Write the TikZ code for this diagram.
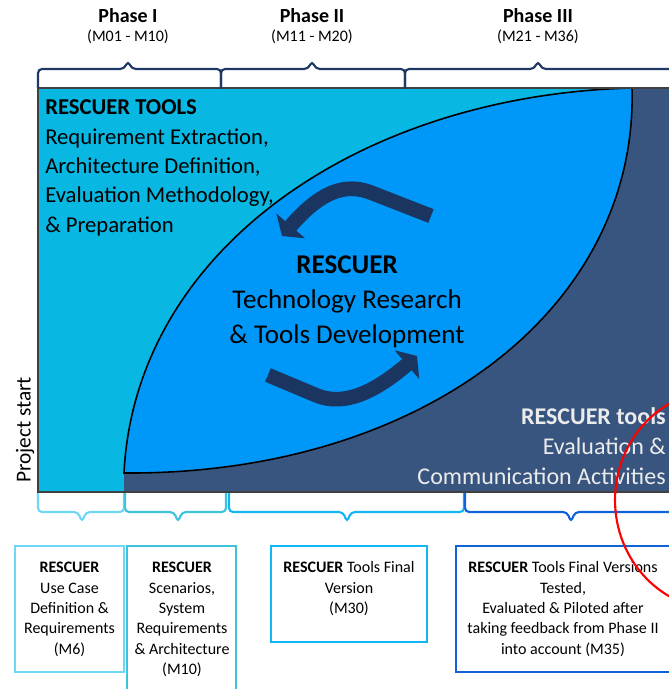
\documentclass[tikz,border=0pt]{standalone}
\usepackage{fontspec}
\setmainfont{Carlito}
\usetikzlibrary{arrows.meta}
\definecolor{toolcyan}{HTML}{08B7E2}
\definecolor{lensblue}{HTML}{0098F8}
\definecolor{evalnavy}{HTML}{385580}
\definecolor{cyclenavy}{HTML}{1A3560}
\definecolor{phasenavy}{HTML}{1F3864}
\definecolor{outA}{HTML}{6FD7F6}
\definecolor{outB}{HTML}{3EC4DA}
\definecolor{outC}{HTML}{12B6F4}
\definecolor{outD}{HTML}{0F62DA}
\begin{document}
\begin{tikzpicture}[x=0.75pt,y=-0.75pt,
  phaselabel/.style={anchor=base,inner sep=0pt,font=\fontsize{15}{18}\selectfont\bfseries},
  monthlabel/.style={anchor=base,inner sep=0pt,font=\fontsize{12}{14}\selectfont},
  topbrace/.style={draw=phasenavy,line width=1.6pt,rounded corners=3pt},
  outbrace/.style={line width=1.6pt,rounded corners=3pt},
  outbox/.style={line width=2.2pt},
  outtext/.style={align=center,anchor=base,inner sep=0pt,font=\fontsize{12}{15.3}\selectfont},
  cyclearrow/.style={draw=cyclenavy,line width=11pt,-{Triangle[length=10pt,width=28pt]}}]
\useasboundingbox (0,0) rectangle (668,689);
\fill[toolcyan] (38,88) rectangle (700,492);
\fill[evalnavy] (124,492) -- (124,473) .. controls (420,475) and (638,310) .. (632,88) -- (700,88) -- (700,492) -- cycle;
\filldraw[fill=lensblue,draw=black,line width=1.2pt] (124,473) .. controls (135,250) and (360,95) .. (632,88) .. controls (638,310) and (420,475) .. (124,473) -- cycle;
\draw[black!75,line width=1pt] (700,88) -- (38,88) -- (38,492) -- (700,492);
\draw[cyclearrow] (431,216) -- (372,193) .. controls (345,182) and (320,192) .. (282,236);
\draw[cyclearrow] (268,375) -- (318,396) .. controls (345,406) and (375,392) .. (417,356);
\node[phaselabel] (ph1) at (128,22.7) {Phase I};
\node[monthlabel] (m1) at (128,41.7) {(M01 - M10)};
\node[phaselabel] (ph2) at (312,22.7) {Phase II};
\node[monthlabel] (m2) at (312,41.7) {(M11 - M20)};
\node[phaselabel] (ph3) at (538,22.7) {Phase III};
\node[monthlabel] (m3) at (538,41.7) {(M21 - M36)};
\draw[topbrace] (38,88) -- (38,69) -- (124,69) -- (128,61) -- (132,69) -- (221,69) -- (221,88);
\draw[topbrace] (221,88) -- (221,69) -- (308,69) -- (312,61) -- (316,69) -- (405,69) -- (405,88);
\draw[topbrace] (405,88) -- (405,69) -- (534,69) -- (538,61) -- (542,69) -- (700,69);
\node[anchor=base west,align=left,inner sep=0pt,font=\fontsize{17}{22}\selectfont] (tools) at (45,232) {\textbf{RESCUER TOOLS}\\Requirement Extraction,\\Architecture Definition,\\Evaluation Methodology,\\\& Preparation};
\node[anchor=base,align=center,inner sep=0pt,font=\fontsize{20.3}{26}\selectfont] (research) at (347,343) {\textbf{RESCUER}\\Technology Research\\\& Tools Development};
\node[anchor=base east,align=right,inner sep=0pt,text=white!92!black,font=\fontsize{18}{22.5}\selectfont] (evaluation) at (666,484) {\textbf{RESCUER tools}\\Evaluation \&\\Communication Activities};
\node[rotate=90,inner sep=0pt,font=\fontsize{16}{19}\selectfont] (start) at (25,430) {Project start};
\draw[outbrace,draw=outA] (38,493) -- (38,512) -- (78,512) -- (82,522) -- (86,512) -- (124,512) -- (124,493);
\draw[outbrace,draw=outB] (125,493) -- (125,512) -- (174,512) -- (178,522) -- (182,512) -- (226,512) -- (226,493);
\draw[outbrace,draw=outC] (229,493) -- (229,512) -- (343,512) -- (347,522) -- (351,512) -- (464,512) -- (464,493);
\draw[outbrace,draw=outD] (465,493) -- (465,512) -- (567,512) -- (571,522) -- (575,512) -- (700,512);
\draw[outbox,draw=outA] (15,546) rectangle (124,672);
\draw[outbox,draw=outB] (127,546) rectangle (236,692);
\draw[outbox,draw=outC] (271,546) rectangle (427,642);
\draw[outbox,draw=outD] (456,546) rectangle (671,672);
\node[outtext] (d1) at (69.5,654.3) {\textbf{RESCUER}\\Use Case\\Definition \&\\Requirements\\(M6)};
\node[outtext] (d2) at (182,674.7) {\textbf{RESCUER}\\Scenarios,\\System\\Requirements\\\& Architecture\\(M10)};
\node[outtext] (d3) at (349,613.5) {\textbf{RESCUER} Tools Final\\Version\\(M30)};
\node[outtext] (d4) at (563,654.3) {\textbf{RESCUER} Tools Final Versions\\Tested,\\Evaluated \& Piloted after\\taking feedback from Phase II\\into account (M35)};
\draw[red,line width=1.6pt] (720,500) ellipse [x radius=105,y radius=110];
\end{tikzpicture}
\end{document}
